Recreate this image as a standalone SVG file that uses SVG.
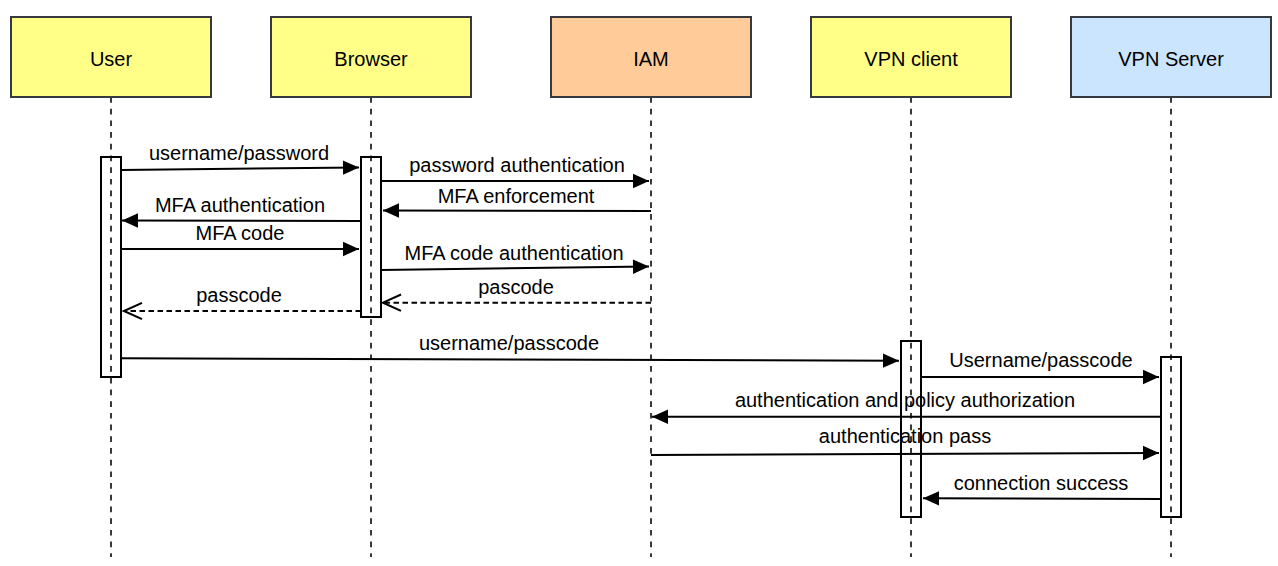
<svg xmlns="http://www.w3.org/2000/svg" width="1278" height="566" viewBox="0 0 1278 566">
  <style>
    .box { stroke: #36393d; stroke-width: 2; }
    .yellow { fill: #ffff88; }
    .orange { fill: #ffcc99; }
    .blue { fill: #cce5ff; }
    .life { stroke: #36393d; stroke-width: 2; stroke-dasharray: 5.7 6; fill: none; }
    .act { fill: none; stroke: #000; stroke-width: 2; }
    .lbl { font-family: "Liberation Sans", Arial, Helvetica, sans-serif; font-size: 20px; fill: #000; text-anchor: middle; }
    .msg { stroke: #000; stroke-width: 2; fill: none; marker-end: url(#solid); }
    .ret { stroke: #000; stroke-width: 2; fill: none; stroke-dasharray: 5.5 3.5; marker-end: url(#open); }
  </style>
  <defs>
    <marker id="solid" markerUnits="userSpaceOnUse" markerWidth="18" markerHeight="18" viewBox="0 0 18 18" refX="17" refY="9" orient="auto">
      <path d="M1,1.8 L17,9 L1,16.2 Z" fill="#000"/>
    </marker>
    <marker id="open" markerUnits="userSpaceOnUse" markerWidth="22" markerHeight="20" viewBox="0 0 22 20" refX="20" refY="10" orient="auto">
      <path d="M2,1.8 L20,10 L2,18.2" fill="none" stroke="#000" stroke-width="2"/>
    </marker>
  </defs>

  <g id="lifelines">
    <line class="life" x1="111" y1="97" x2="111" y2="557"/>
    <line class="life" x1="371" y1="97" x2="371" y2="557"/>
    <line class="life" x1="651" y1="97" x2="651" y2="557"/>
    <line class="life" x1="911" y1="97" x2="911" y2="557"/>
    <line class="life" x1="1171" y1="97" x2="1171" y2="557"/>
  </g>

  <g id="node-user">
    <rect class="box yellow" x="11" y="17" width="200" height="80"/>
    <text class="lbl" x="111" y="66">User</text>
  </g>
  <g id="node-browser">
    <rect class="box yellow" x="271" y="17" width="200" height="80"/>
    <text class="lbl" x="371" y="66">Browser</text>
  </g>
  <g id="node-iam">
    <rect class="box orange" x="551" y="17" width="200" height="80"/>
    <text class="lbl" x="651" y="66">IAM</text>
  </g>
  <g id="node-vpnclient">
    <rect class="box yellow" x="811" y="17" width="200" height="80"/>
    <text class="lbl" x="911" y="66">VPN client</text>
  </g>
  <g id="node-vpnserver">
    <rect class="box blue" x="1071" y="17" width="200" height="80"/>
    <text class="lbl" x="1171" y="66">VPN Server</text>
  </g>

  <g id="activations">
    <rect class="act" x="101" y="157" width="20" height="220"/>
    <rect class="act" x="361" y="157" width="20" height="160"/>
    <rect class="act" x="901" y="341" width="20" height="176"/>
    <rect class="act" x="1161" y="357" width="20" height="160"/>
  </g>

  <g id="connectors">
    <line class="msg" x1="121" y1="170" x2="359" y2="167.5"/>
    <line class="msg" x1="381" y1="181" x2="649" y2="181"/>
    <line class="msg" x1="651" y1="211" x2="383" y2="210.5"/>
    <line class="msg" x1="361" y1="221" x2="122" y2="220.5"/>
    <line class="msg" x1="121" y1="249" x2="359" y2="249"/>
    <line class="msg" x1="381" y1="270" x2="649" y2="266.5"/>
    <line class="ret" x1="651" y1="302.7" x2="383" y2="302.7"/>
    <line class="ret" x1="361" y1="311" x2="124" y2="311"/>
    <line class="msg" x1="121" y1="358.3" x2="899" y2="360.7"/>
    <line class="msg" x1="921" y1="377" x2="1159" y2="377"/>
    <line class="msg" x1="1161" y1="416.7" x2="652" y2="416.7"/>
    <line class="msg" x1="651" y1="455" x2="1159" y2="453"/>
    <line class="msg" x1="1161" y1="499" x2="923" y2="498.3"/>
  </g>

  <g id="labels">
    <text class="lbl" x="239" y="160">username/password</text>
    <text class="lbl" x="517" y="171.5">password authentication</text>
    <text class="lbl" x="516" y="202.5">MFA enforcement</text>
    <text class="lbl" x="240" y="211.5">MFA authentication</text>
    <text class="lbl" x="240" y="240">MFA code</text>
    <text class="lbl" x="514" y="260">MFA code authentication</text>
    <text class="lbl" x="516" y="294">pascode</text>
    <text class="lbl" x="239" y="301.5">passcode</text>
    <text class="lbl" x="509" y="350">username/passcode</text>
    <text class="lbl" x="1041" y="367">Username/passcode</text>
    <text class="lbl" x="905" y="407">authentication and policy authorization</text>
    <text class="lbl" x="905" y="443">authentication pass</text>
    <text class="lbl" x="1041" y="489.5">connection success</text>
  </g>
</svg>
